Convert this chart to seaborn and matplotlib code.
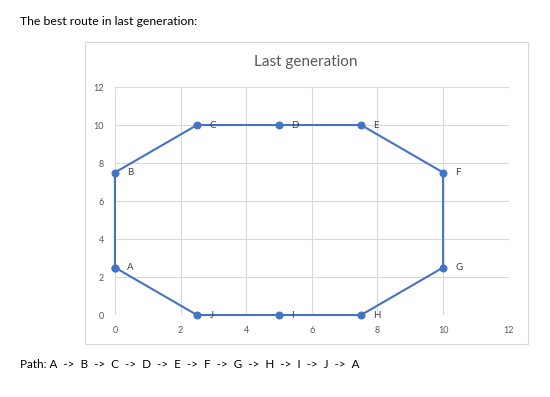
import matplotlib
matplotlib.use("Agg")
import matplotlib.pyplot as plt
import seaborn as sns
import pandas as pd
from matplotlib.patches import Rectangle

cities = ["A", "B", "C", "D", "E", "F", "G", "H", "I", "J"]
xs = [0, 0, 2.5, 5, 7.5, 10, 10, 7.5, 5, 2.5]
ys = [2.5, 7.5, 10, 10, 10, 7.5, 2.5, 0, 0, 0]

# closed route: back to the start
route = pd.DataFrame({"x": xs + xs[:1], "y": ys + ys[:1]})

sns.set_style("white")
plt.rcParams["font.family"] = ["Lato", "DejaVu Sans"]

fig = plt.figure(figsize=(5.5, 3.97), dpi=100)
ax = fig.add_axes([0.209, 0.2065, 0.716, 0.5743])

fig.patches.append(Rectangle((0.1545, 0.1335), 0.805, 0.7607, transform=fig.transFigure,
                             fill=False, edgecolor="#d9d9d9", linewidth=0.8))

sns.lineplot(data=route, x="x", y="y", sort=False, estimator=None, ax=ax,
             color="#4472C4", linewidth=1.5, marker="o", markersize=5,
             markeredgecolor="#4472C4", clip_on=False, zorder=3)

for name, x, y in zip(cities, xs, ys):
    ax.annotate(name, (x, y), xytext=(9, 0), textcoords="offset points",
                va="center", ha="left", fontsize=7, color="#404040")

ax.set_xlim(0, 12)
ax.set_ylim(0, 12)
ax.set_xticks(range(0, 13, 2))
ax.set_yticks(range(0, 13, 2))
ax.grid(True, color="#d9d9d9", linewidth=0.8)
for s in ax.spines.values():
    s.set_visible(False)
ax.tick_params(length=0, labelsize=6.5, colors="#595959", pad=8)
ax.set_xlabel("")
ax.set_ylabel("")

fig.text(0.555, 0.845, "Last generation", ha="center", va="center", fontsize=11, color="#595959")
fig.text(0.036, 0.945, "The best route in last generation:", ha="left", va="center", fontsize=8.8, color="black")
fig.text(0.036, 0.083, "Path: " + "  ->  ".join(cities + cities[:1]), ha="left", va="center", fontsize=8.4, color="black")

fig.savefig("out.png", dpi=100)
